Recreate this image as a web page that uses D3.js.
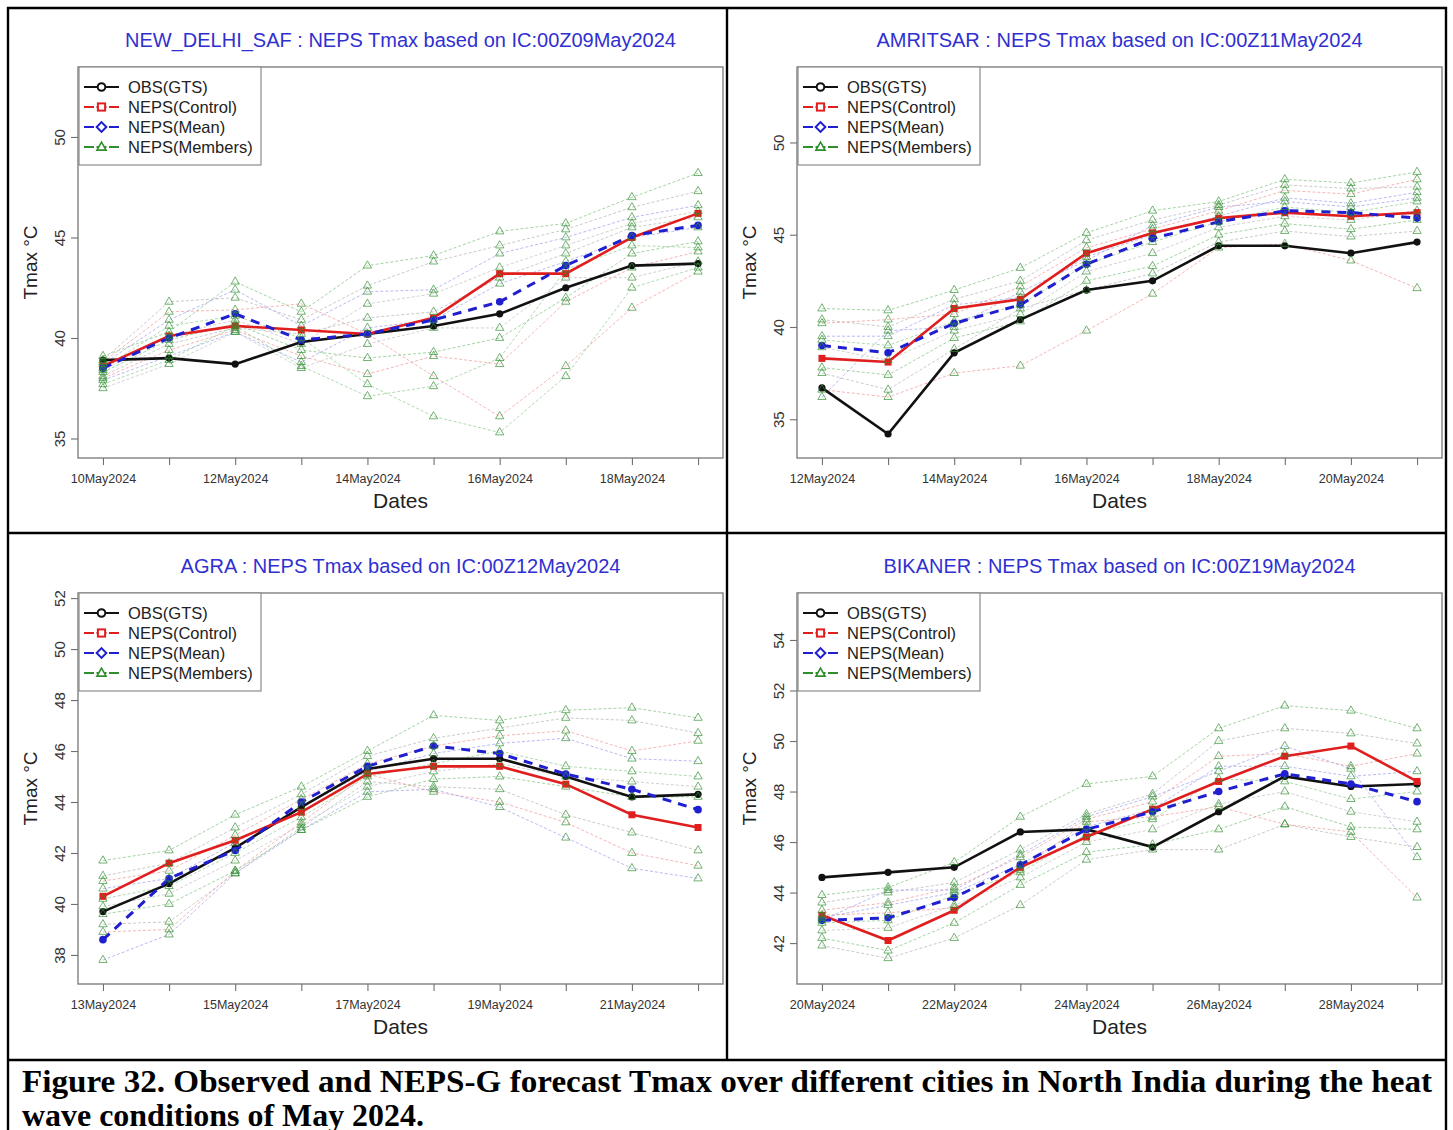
<!DOCTYPE html>
<html>
<head>
<meta charset="utf-8">
<script src="https://cdn.jsdelivr.net/npm/d3@7"></script>
<style>
  html, body { margin: 0; padding: 0; background: #fff; }
  svg { display: block; }
</style>
</head>
<body>
<svg id="chart" width="1453" height="1130"></svg>
<script>
// ---------------- DATA ----------------
const delhiTitle = "NEW_DELHI_SAF : NEPS Tmax based on IC:00Z09May2024";
const delhiDates = ["10May2024","11May2024","12May2024","13May2024","14May2024","15May2024","16May2024","17May2024","18May2024","19May2024"];
const delhiYTicks = [35, 40, 45, 50];
const delhiObs = [38.9, 39.0, 38.7, 39.8, 40.2, 40.6, 41.2, 42.5, 43.6, 43.7];
const delhiControl = [38.6, 40.1, 40.6, 40.4, 40.2, 41.0, 43.2, 43.2, 45.0, 46.2];
const delhiMean = [38.5, 40.0, 41.2, 39.9, 40.2, 40.9, 41.8, 43.6, 45.1, 45.6];
const delhiMembers = [
  [39.1, 40.3, 42.8, 41.3, 43.6, 44.1, 45.3, 45.7, 47.0, 48.2],
  [38.9, 41.8, 42.0, 40.9, 42.6, 43.8, 44.6, 45.4, 46.5, 47.3],
  [38.8, 41.3, 41.4, 41.7, 40.2, 38.1, 36.1, 38.6, 41.5, 43.3],
  [38.7, 40.9, 42.4, 40.6, 42.3, 42.4, 44.2, 45.0, 46.0, 46.6],
  [38.5, 40.6, 41.1, 40.0, 37.7, 36.1, 35.3, 38.1, 42.5, 43.5],
  [38.4, 40.1, 40.9, 39.7, 41.7, 42.2, 43.5, 44.6, 45.7, 46.3],
  [38.3, 39.9, 40.7, 39.4, 39.0, 39.3, 40.0, 42.0, 44.2, 44.8],
  [38.1, 39.7, 40.5, 40.2, 41.0, 41.3, 43.0, 44.2, 45.5, 46.0],
  [38.0, 39.4, 40.4, 39.1, 38.2, 39.1, 38.7, 41.8, 43.5, 44.3],
  [37.9, 39.1, 40.3, 38.8, 40.5, 40.9, 42.7, 43.8, 45.0, 45.5],
  [37.7, 38.9, 40.6, 38.6, 37.1, 37.6, 39.0, 43.4, 44.6, 44.5],
  [37.5, 38.7, 40.3, 38.5, 39.7, 40.5, 40.5, 43.0, 43.0, 43.8]
];

const amritsarTitle = "AMRITSAR : NEPS Tmax based on IC:00Z11May2024";
const amritsarDates = ["12May2024","13May2024","14May2024","15May2024","16May2024","17May2024","18May2024","19May2024","20May2024","21May2024"];
const amritsarYTicks = [35, 40, 45, 50];
const amritsarObs = [36.7, 34.2, 38.6, 40.4, 42.0, 42.5, 44.4, 44.4, 44.0, 44.6];
const amritsarControl = [38.3, 38.1, 41.0, 41.5, 44.0, 45.1, 45.9, 46.2, 46.0, 46.2];
const amritsarMean = [39.0, 38.6, 40.2, 41.2, 43.4, 44.8, 45.7, 46.3, 46.2, 45.9];
const amritsarMembers = [
  [41.0, 40.9, 42.0, 43.2, 45.1, 46.3, 46.8, 48.0, 47.8, 48.4],
  [40.4, 40.0, 41.5, 42.5, 44.7, 45.8, 46.6, 47.7, 47.5, 47.6],
  [40.2, 40.4, 40.7, 42.2, 44.3, 45.3, 46.3, 47.4, 47.2, 48.0],
  [39.5, 39.5, 41.2, 41.6, 43.8, 45.0, 46.0, 47.0, 46.7, 47.3],
  [39.3, 39.0, 40.3, 41.2, 43.4, 44.6, 45.7, 46.5, 46.2, 46.8],
  [38.9, 38.2, 39.8, 40.7, 43.0, 44.0, 45.4, 46.0, 45.8, 46.3],
  [37.8, 37.4, 39.4, 40.3, 42.5, 43.3, 45.0, 45.6, 45.3, 45.8],
  [37.5, 36.6, 38.8, 41.0, 42.0, 42.9, 44.6, 45.2, 44.9, 45.2],
  [36.6, 36.2, 37.5, 37.9, 39.8, 41.8, 44.3, 44.5, 43.6, 42.1],
  [36.2, 39.8, 40.0, 41.9, 43.6, 45.5, 46.5, 46.8, 46.5, 47.0]
];

const agraTitle = "AGRA : NEPS Tmax based on IC:00Z12May2024";
const agraDates = ["13May2024","14May2024","15May2024","16May2024","17May2024","18May2024","19May2024","20May2024","21May2024","22May2024"];
const agraYTicks = [38, 40, 42, 44, 46, 48, 50, 52];
const agraObs = [39.7, 40.8, 42.2, 43.8, 45.3, 45.7, 45.7, 45.0, 44.2, 44.3];
const agraControl = [40.3, 41.6, 42.5, 43.6, 45.1, 45.4, 45.4, 44.7, 43.5, 43.0];
const agraMean = [38.6, 41.0, 42.1, 44.0, 45.4, 46.2, 45.9, 45.1, 44.5, 43.7];
const agraMembers = [
  [41.7, 42.1, 43.5, 44.6, 46.0, 47.4, 47.2, 47.6, 47.7, 47.3],
  [41.1, 41.6, 43.0, 44.3, 45.8, 46.5, 46.9, 47.3, 47.2, 46.7],
  [40.9, 41.3, 42.7, 44.1, 45.5, 46.2, 46.6, 46.8, 46.0, 46.4],
  [40.6, 41.0, 42.4, 43.8, 45.2, 45.9, 46.3, 46.5, 45.7, 45.6],
  [40.2, 40.7, 42.0, 43.4, 45.0, 45.5, 46.0, 45.4, 45.2, 45.0],
  [39.9, 40.4, 41.7, 43.1, 44.6, 45.2, 45.5, 45.0, 44.8, 44.6],
  [39.6, 40.0, 41.3, 42.9, 44.2, 44.9, 45.0, 44.6, 44.2, 44.2],
  [39.2, 39.3, 41.2, 43.0, 44.8, 44.6, 44.5, 43.5, 42.8, 42.1],
  [38.9, 39.0, 41.3, 43.2, 45.1, 44.4, 44.0, 43.2, 42.0, 41.5],
  [37.8, 38.8, 41.2, 42.9, 44.4, 44.5, 43.8, 42.6, 41.4, 41.0]
];

const bikanerTitle = "BIKANER : NEPS Tmax based on IC:00Z19May2024";
const bikanerDates = ["20May2024","21May2024","22May2024","23May2024","24May2024","25May2024","26May2024","27May2024","28May2024","29May2024"];
const bikanerYTicks = [42, 44, 46, 48, 50, 52, 54];
const bikanerObs = [44.6, 44.8, 45.0, 46.4, 46.5, 45.8, 47.2, 48.6, 48.2, 48.3];
const bikanerControl = [43.1, 42.1, 43.3, 45.0, 46.2, 47.3, 48.4, 49.4, 49.8, 48.4];
const bikanerMean = [42.9, 43.0, 43.8, 45.1, 46.5, 47.2, 48.0, 48.7, 48.3, 47.6];
const bikanerMembers = [
  [43.9, 44.2, 45.2, 47.0, 48.3, 48.6, 50.5, 51.4, 51.2, 50.5],
  [43.6, 44.0, 44.4, 45.7, 47.1, 47.9, 50.0, 50.5, 50.3, 49.9],
  [43.3, 43.6, 44.2, 45.4, 46.9, 47.6, 49.4, 49.5, 49.0, 49.5],
  [43.0, 43.5, 44.0, 45.1, 46.6, 47.3, 49.0, 49.0, 48.6, 48.8],
  [42.8, 42.9, 43.9, 44.8, 46.3, 46.9, 48.5, 48.4, 47.7, 48.0],
  [42.5, 42.6, 43.5, 44.6, 46.0, 46.5, 47.5, 48.0, 47.2, 46.8],
  [42.2, 41.7, 42.8, 44.3, 45.6, 45.9, 46.5, 47.4, 46.6, 46.5],
  [41.9, 41.4, 42.2, 43.5, 45.3, 45.7, 45.7, 46.7, 46.2, 45.8],
  [43.1, 43.2, 43.4, 44.9, 46.8, 47.0, 47.4, 46.7, 46.4, 43.8],
  [42.9, 44.1, 44.1, 45.5, 47.0, 47.8, 48.8, 49.8, 48.9, 45.4]
];

const legendLabels = ["OBS(GTS)", "NEPS(Control)", "NEPS(Mean)", "NEPS(Members)"];
const xAxisTitle = "Dates";
const yAxisTitle = "Tmax \u00B0C";
const captionLine1 = "Figure 32. Observed and NEPS-G forecast Tmax over different cities in North India during the heat";
const captionLine2 = "wave conditions of May 2024.";

// ---------------- LAYOUT / STYLE ----------------
const panels = [
  {title: delhiTitle, dates: delhiDates, yTicks: delhiYTicks, obs: delhiObs, ctrl: delhiControl, mean: delhiMean, members: delhiMembers, yDomain: [34.03, 53.48], x0: 78, y0: 67},
  {title: amritsarTitle, dates: amritsarDates, yTicks: amritsarYTicks, obs: amritsarObs, ctrl: amritsarControl, mean: amritsarMean, members: amritsarMembers, yDomain: [32.90, 54.09], x0: 797, y0: 67},
  {title: agraTitle, dates: agraDates, yTicks: agraYTicks, obs: agraObs, ctrl: agraControl, mean: agraMean, members: agraMembers, yDomain: [36.86, 52.20], x0: 78, y0: 593},
  {title: bikanerTitle, dates: bikanerDates, yTicks: bikanerYTicks, obs: bikanerObs, ctrl: bikanerControl, mean: bikanerMean, members: bikanerMembers, yDomain: [40.38, 55.86], x0: 797, y0: 593}
];
const PW = 645, PH = 391;
const memberLineColors = ["#8cc88c", "#bcbcbc", "#f2a3a3", "#a8a8ee", "#9ad09a", "#c6c6c6"];
const OBS_C = "#111111", CTRL_C = "#e01e1e", MEAN_C = "#1f1fd0", MEM_C = "#2f8f2f";
const TITLE_C = "#3030d0";
const SANS = "'Liberation Sans', Arial, Helvetica, sans-serif";

const svg = d3.select("#chart");
svg.append("rect").attr("width", 1453).attr("height", 1130).attr("fill", "#fff");

panels.forEach(p => {
  const g = svg.append("g").attr("transform", `translate(${p.x0},${p.y0})`);
  const x = d3.scaleLinear().domain([-0.3775, 9.3775]).range([0, PW]);
  const y = d3.scaleLinear().domain(p.yDomain).range([PH, 0]);
  const idx = d3.range(p.dates.length);
  const line = d3.line().x((d, i) => x(i)).y(d => y(d));

  // title
  g.append("text").attr("x", PW / 2).attr("y", -20)
    .attr("text-anchor", "middle").attr("fill", TITLE_C)
    .attr("font-family", SANS).attr("font-size", 20)
    .text(p.title);

  // member lines
  p.members.forEach((m, k) => {
    g.append("path").datum(m).attr("d", line)
      .attr("fill", "none").attr("stroke", memberLineColors[k % memberLineColors.length])
      .attr("stroke-width", 0.8).attr("stroke-dasharray", "3,2");
  });

  // obs
  g.append("path").datum(p.obs).attr("d", line).attr("fill", "none")
    .attr("stroke", OBS_C).attr("stroke-width", 2.6);
  g.selectAll(".obsPt").data(p.obs).enter().append("circle")
    .attr("cx", (d, i) => x(i)).attr("cy", d => y(d)).attr("r", 3.6).attr("fill", OBS_C);

  // control
  g.append("path").datum(p.ctrl).attr("d", line).attr("fill", "none")
    .attr("stroke", CTRL_C).attr("stroke-width", 2.6);
  g.selectAll(".ctrlPt").data(p.ctrl).enter().append("rect")
    .attr("x", (d, i) => x(i) - 3.5).attr("y", d => y(d) - 3.5)
    .attr("width", 7).attr("height", 7).attr("fill", CTRL_C);

  // mean
  g.append("path").datum(p.mean).attr("d", line).attr("fill", "none")
    .attr("stroke", MEAN_C).attr("stroke-width", 3).attr("stroke-dasharray", "9,7");
  g.selectAll(".meanPt").data(p.mean).enter().append("circle")
    .attr("cx", (d, i) => x(i)).attr("cy", d => y(d)).attr("r", 3.8).attr("fill", MEAN_C);

  // member triangles
  const tri = d3.symbol().type(d3.symbolTriangle).size(30);
  p.members.forEach(m => {
    g.selectAll(null).data(m).enter().append("path")
      .attr("d", tri)
      .attr("transform", (d, i) => `translate(${x(i)},${y(d)})`)
      .attr("fill", "none").attr("stroke", MEM_C).attr("stroke-width", 0.8).attr("opacity", 0.85);
  });

  // box
  g.append("rect").attr("x", 0).attr("y", 0).attr("width", PW).attr("height", PH)
    .attr("fill", "none").attr("stroke", "#808080").attr("stroke-width", 1.4);

  // x axis
  const xa = g.append("g").attr("transform", `translate(0,${PH})`)
    .call(d3.axisBottom(x).tickValues(idx).tickSize(7).tickSizeOuter(0)
      .tickFormat(i => (i % 2 === 0 ? p.dates[i] : "")));
  xa.select(".domain").remove();
  xa.selectAll("line").attr("stroke", "#707070").attr("stroke-width", 1.1);
  xa.selectAll("text").attr("font-family", SANS).attr("font-size", 12.5)
    .attr("fill", "#333").attr("y", 16).attr("dy", "0.71em");

  // y axis
  const ya = g.append("g")
    .call(d3.axisLeft(y).tickValues(p.yTicks).tickSize(7).tickSizeOuter(0).tickFormat(d3.format("d")));
  ya.select(".domain").remove();
  ya.selectAll("line").attr("stroke", "#707070").attr("stroke-width", 1.1);
  ya.selectAll("text").attr("font-family", SANS).attr("font-size", 15).attr("fill", "#333")
    .attr("x", 0).attr("y", -13).attr("dy", null).attr("text-anchor", "middle")
    .attr("transform", "rotate(-90)");

  // axis titles
  g.append("text").attr("x", PW / 2).attr("y", PH + 50).attr("text-anchor", "middle")
    .attr("font-family", SANS).attr("font-size", 21).attr("fill", "#222").text(xAxisTitle);
  g.append("text").attr("transform", `translate(-41,${PH / 2}) rotate(-90)`)
    .attr("text-anchor", "middle").attr("font-family", SANS).attr("font-size", 19)
    .attr("fill", "#222").text(yAxisTitle);

  // legend
  const lg = g.append("g").attr("transform", "translate(1,0)");
  lg.append("rect").attr("width", 182).attr("height", 98).attr("fill", "#fff")
    .attr("stroke", "#8a8a8a").attr("stroke-width", 1.2);
  const lcols = [OBS_C, CTRL_C, MEAN_C, MEM_C];
  legendLabels.forEach((lab, k) => {
    const ly = 20 + k * 20;
    const c = lcols[k];
    lg.append("line").attr("x1", 5).attr("x2", 40).attr("y1", ly).attr("y2", ly)
      .attr("stroke", c).attr("stroke-width", 2.2)
      .attr("stroke-dasharray", k === 0 ? null : "10,2.5");
    const sx = 22.5;
    if (k === 0) {
      lg.append("circle").attr("cx", sx).attr("cy", ly).attr("r", 3.8)
        .attr("fill", "#fff").attr("stroke", c).attr("stroke-width", 2);
    } else if (k === 1) {
      lg.append("rect").attr("x", sx - 3.6).attr("y", ly - 3.6).attr("width", 7.2).attr("height", 7.2)
        .attr("fill", "#fff").attr("stroke", c).attr("stroke-width", 2);
    } else if (k === 2) {
      lg.append("path").attr("d", d3.symbol().type(d3.symbolDiamond2).size(60)())
        .attr("transform", `translate(${sx},${ly})`)
        .attr("fill", "#fff").attr("stroke", c).attr("stroke-width", 2);
    } else {
      lg.append("path").attr("d", d3.symbol().type(d3.symbolTriangle2).size(60)())
        .attr("transform", `translate(${sx},${ly + 0.5})`)
        .attr("fill", "#fff").attr("stroke", c).attr("stroke-width", 1.6);
    }
    lg.append("text").attr("x", 49).attr("y", ly + 5.5).attr("font-family", SANS)
      .attr("font-size", 16.5).attr("fill", "#222").text(lab);
  });
});

// table borders
const B = svg.append("g").attr("stroke", "#000").attr("stroke-width", 2.4).attr("fill", "none");
B.append("line").attr("x1", 8).attr("x2", 8).attr("y1", 7).attr("y2", 1130);
B.append("line").attr("x1", 1446).attr("x2", 1446).attr("y1", 7).attr("y2", 1130);
B.append("line").attr("x1", 7).attr("x2", 1447).attr("y1", 8).attr("y2", 8);
B.append("line").attr("x1", 727).attr("x2", 727).attr("y1", 8).attr("y2", 1060);
B.append("line").attr("x1", 7).attr("x2", 1447).attr("y1", 533).attr("y2", 533);
B.append("line").attr("x1", 7).attr("x2", 1447).attr("y1", 1060).attr("y2", 1060);

// caption
const SERIF = "'Liberation Serif', 'Times New Roman', serif";
svg.append("text").attr("x", 22).attr("y", 1092).attr("font-family", SERIF)
  .attr("font-weight", "bold").attr("font-size", 32).attr("fill", "#000")
  .attr("textLength", 1410).attr("lengthAdjust", "spacingAndGlyphs").text(captionLine1);
svg.append("text").attr("x", 22).attr("y", 1126).attr("font-family", SERIF)
  .attr("font-weight", "bold").attr("font-size", 32).attr("fill", "#000")
  .attr("textLength", 402).attr("lengthAdjust", "spacingAndGlyphs").text(captionLine2);
</script>
</body>
</html>
